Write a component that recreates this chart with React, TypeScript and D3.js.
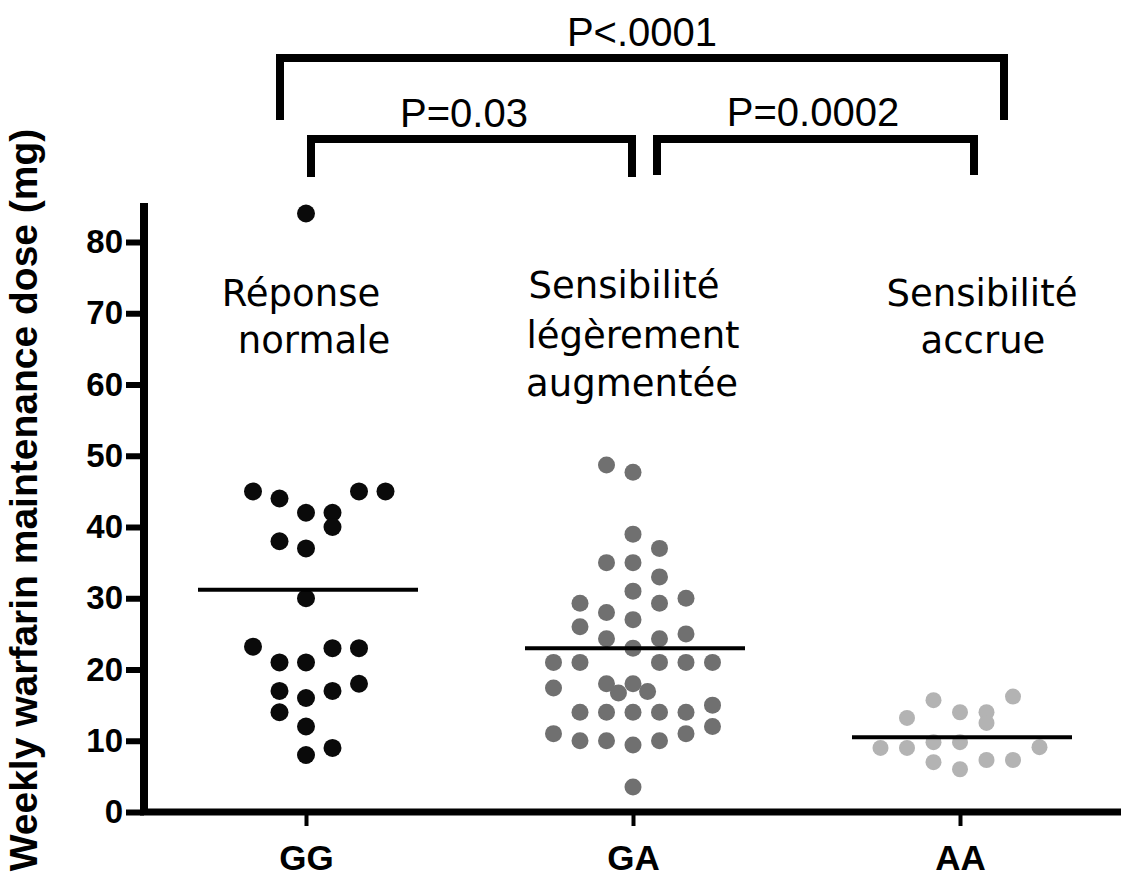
import React, { useEffect, useRef } from "react";
import * as d3 from "d3";

// genotype groups and weekly warfarin doses (mg)
const groups = ["GG", "GA", "AA"];

const ggDose = [45, 44, 42, 42, 45, 45, 40, 38, 37, 30, 23.2, 21, 21, 23, 23, 17, 16, 17, 18, 14, 12, 8, 9, 84];
const ggSlot = [-2, -1, 0, 1, 2, 3, 1, -1, 0, 0, -2, -1, 0, 1, 2, -1, 0, 1, 2, -1, 0, 0, 1, 0];

const gaDose = [48.7, 47.7, 39, 37, 35, 35, 33, 31, 29.3, 28, 27, 29.3, 30, 26, 24.3, 23, 24.3, 25, 21, 21, 21, 21, 21,
  17.4, 18, 16.7, 18, 16.9, 14, 14, 14, 14, 14, 15, 12, 11, 10, 10, 9.4, 10, 11, 3.5];
const gaSlot = [-1, 0, 0, 1, -1, 0, 1, 0, -2, -1, 0, 1, 2, -2, -1, 0, 1, 2, -3, -2, 1, 2, 3,
  -3, -1, -0.55, 0, 0.55, -2, -1, 0, 1, 2, 3, 3, -3, -2, -1, 0, 1, 2, 0];

const aaDose = [13.2, 15.7, 14, 14, 12.5, 16.2, 9, 9, 9.8, 9.8, 9.1, 7, 6, 7.3, 7.3];
const aaSlot = [-2, -1, 0, 1, 1, 2, -3, -2, -1, 0, 3, -1, 0, 1, 2];

const groupMeans = [31.2, 23, 10.5];
const groupColors = ["#0a0a0a", "#707070", "#b3b3b3"];
const groupRadius = [9, 8.5, 8];

const yTicks = [0, 10, 20, 30, 40, 50, 60, 70, 80];

const notes = [
  ["Réponse", "normale"],
  ["Sensibilité", "légèrement", "augmentée"],
  ["Sensibilité", "accrue"],
];

const pLabels = ["P<.0001", "P=0.03", "P=0.0002"];

export default function App() {
  const ref = useRef<SVGSVGElement>(null);

  useEffect(() => {
    document.body.style.margin = "0";
    const svg = d3.select(ref.current);
    svg.selectAll("*").remove();

    const y = d3.scaleLinear().domain([0, 80]).range([812, 242]);
    const x = d3.scalePoint<string>().domain(groups).range([306, 960]);
    const slot = d3.scaleLinear().domain([0, 1]).range([0, 26.5]);

    svg.append("rect").attr("width", 1121).attr("height", 883).attr("fill", "#fff");

    // y axis
    const yAxis = svg.append("g").attr("transform", "translate(144,0)")
      .call(d3.axisLeft(y).tickValues(yTicks).tickSize(18).tickSizeOuter(0).tickPadding(3));
    yAxis.select(".domain").remove();
    yAxis.selectAll(".tick line").attr("stroke", "#000").attr("stroke-width", 6);
    yAxis.selectAll(".tick text").attr("fill", "#000").style("font-family", "'Liberation Sans', Arial, sans-serif")
      .style("font-size", "33px").style("font-weight", "bold");
    svg.append("line").attr("x1", 144).attr("x2", 144).attr("y1", 203).attr("y2", 815)
      .attr("stroke", "#000").attr("stroke-width", 8);

    // x axis
    const xAxis = svg.append("g").attr("transform", "translate(0,812)")
      .call(d3.axisBottom(x).tickSize(14).tickSizeOuter(0));
    xAxis.select(".domain").remove();
    xAxis.selectAll(".tick line").attr("stroke", "#000").attr("stroke-width", 4);
    xAxis.selectAll(".tick text").attr("fill", "#000").attr("y", 58).attr("dy", 0)
      .style("font-family", "'Liberation Sans', Arial, sans-serif").style("font-size", "35px").style("font-weight", "bold");
    svg.append("line").attr("x1", 140).attr("x2", 1121).attr("y1", 812).attr("y2", 812)
      .attr("stroke", "#000").attr("stroke-width", 7);

    svg.append("text").attr("transform", "translate(37,500) rotate(-90)").attr("text-anchor", "middle")
      .style("font-family", "'Liberation Sans', Arial, sans-serif").style("font-size", "39px").style("font-weight", "bold")
      .text("Weekly warfarin maintenance dose (mg)");

    // dots
    const sets = [
      [ggDose, ggSlot],
      [gaDose, gaSlot],
      [aaDose, aaSlot],
    ];
    sets.forEach(([dose, slots], gi) => {
      const g = groups[gi];
      svg.append("g").selectAll("circle").data(dose).enter().append("circle")
        .attr("cx", (d, i) => (x(g) as number) + slot(slots[i]))
        .attr("cy", (d) => y(d))
        .attr("r", groupRadius[gi])
        .attr("fill", groupColors[gi]);
    });

    // mean lines
    svg.append("g").selectAll("line").data(groupMeans).enter().append("line")
      .attr("x1", (d, i) => (x(groups[i]) as number) - 108)
      .attr("x2", (d, i) => (x(groups[i]) as number) + 112)
      .attr("y1", (d) => y(d)).attr("y2", (d) => y(d))
      .attr("stroke", "#000").attr("stroke-width", 4);

    // notes above each group
    const noteX = [[301, 314], [624, 633, 632], [982, 983]];
    const noteY = [[306, 353], [298, 348, 396], [306, 353]];
    notes.forEach((lines, gi) => {
      lines.forEach((t, li) => {
        svg.append("text").attr("x", noteX[gi][li]).attr("y", noteY[gi][li]).attr("text-anchor", "middle")
          .style("font-family", "'Comic Sans MS', 'DejaVu Sans', sans-serif").style("font-size", "37px")
          .text(t);
      });
    });

    // significance brackets
    const brackets = [
      { x1: 280, x2: 1004, top: 58, bottom: 120, lx: 642, ly: 46 },
      { x1: 311, x2: 632, top: 139, bottom: 177, lx: 464, ly: 127 },
      { x1: 657, x2: 974, top: 139, bottom: 175, lx: 813, ly: 126 },
    ];
    brackets.forEach((b, i) => {
      svg.append("path").attr("d", `M${b.x1},${b.bottom}V${b.top}H${b.x2}V${b.bottom}`)
        .attr("fill", "none").attr("stroke", "#000").attr("stroke-width", 8).attr("stroke-linejoin", "miter");
      svg.append("text").attr("x", b.lx).attr("y", b.ly).attr("text-anchor", "middle")
        .style("font-family", "'Liberation Sans', Arial, sans-serif").style("font-size", "40px")
        .text(pLabels[i]);
    });
  }, []);

  return <svg ref={ref} width={1121} height={883} style={{ display: "block" }}></svg>;
}
